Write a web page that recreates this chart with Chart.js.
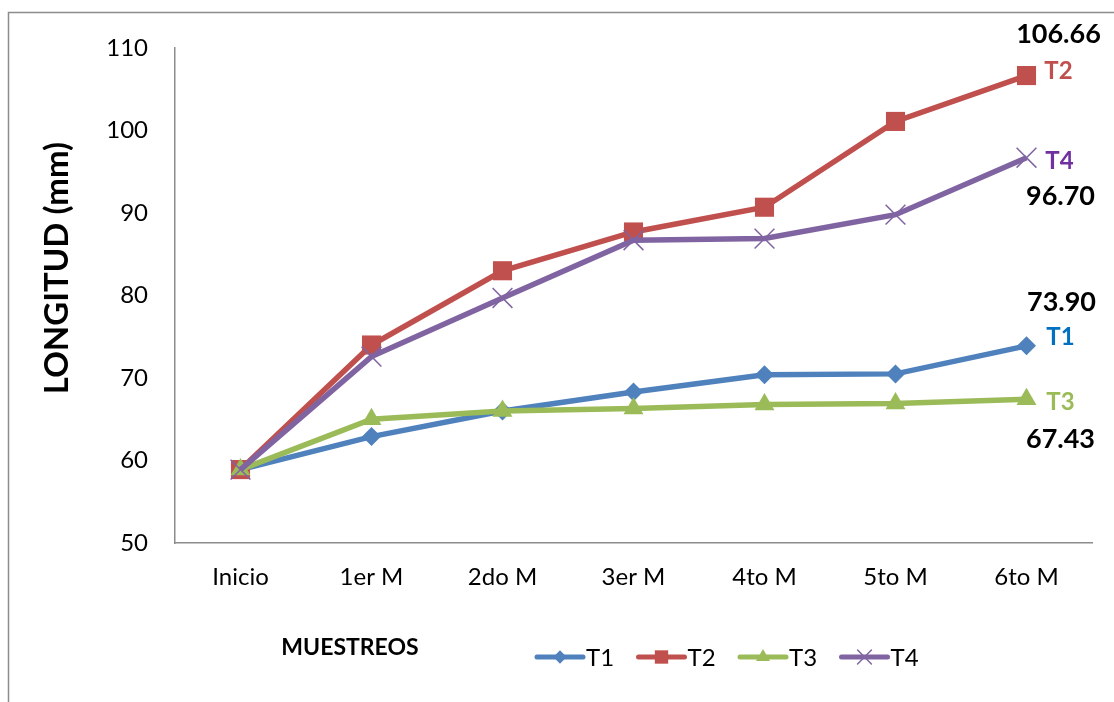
<!DOCTYPE html>
<html>
<head>
<meta charset="utf-8">
<script src="https://cdn.jsdelivr.net/npm/chart.js@4/dist/chart.umd.min.js"></script>
<style>
  html, body { margin: 0; padding: 0; background: #ffffff; }
  #wrap { width: 1114px; height: 702px; }
</style>
</head>
<body>
<div id="wrap"><canvas id="c" width="1114" height="702"></canvas></div>
<script>
// Sampling dates
const categories = ['Inicio', '1er M', '2do M', '3er M', '4to M', '5to M', '6to M'];

// Length (mm) per treatment
const t1 = [58.9, 62.9, 66.0, 68.3, 70.4, 70.5, 73.90];
const t2 = [58.9, 74.0, 83.0, 87.7, 90.7, 101.1, 106.66];
const t3 = [58.9, 65.0, 66.0, 66.3, 66.8, 66.9, 67.43];
const t4 = [58.9, 72.6, 79.7, 86.7, 86.9, 89.8, 96.70];

const seriesNames = ['T1', 'T2', 'T3', 'T4'];
const yTicks = [50, 60, 70, 80, 90, 100, 110];

const lineColors = ['#4F81BD', '#C0504D', '#9BBB59', '#8064A2'];
const tagColors = ['#0070C0', '#C0504D', '#9BBB59', '#7030A0'];
const markers = [
  { style: 'rectRot', radius: 9.5, border: 0 },
  { style: 'rect', radius: 13.5, border: 0 },
  { style: 'triangle', radius: 11.5, border: 0 },
  { style: 'crossRot', radius: 14, border: 1.5 }
];

const FONT = 'Lato, "Open Sans", "Liberation Sans", sans-serif';

function makeDataset(i, values) {
  const m = markers[i];
  return {
    label: seriesNames[i],
    data: values,
    borderColor: lineColors[i],
    backgroundColor: lineColors[i],
    borderWidth: 5.5,
    tension: 0,
    pointStyle: m.style,
    pointRadius: m.radius,
    pointHoverRadius: m.radius,
    pointBackgroundColor: lineColors[i],
    pointBorderColor: lineColors[i],
    pointBorderWidth: m.border,
    order: 4 - i,
    clip: false
  };
}

// Labels next to the final point of each series: value text and series tag
const endLabels = [
  { series: 0, value: { dx: 35, dy: -44 }, tag: { dx: 34, dy: -9 } },
  { series: 1, value: { dx: 32, dy: -41 }, tag: { dx: 32, dy: -4 } },
  { series: 2, value: { dx: 34, dy: 40 }, tag: { dx: 34, dy: 3 } },
  { series: 3, value: { dx: 34, dy: 39 }, tag: { dx: 33, dy: 4 } }
];

function drawMarker(ctx, i, x, y, scale) {
  const m = markers[i];
  const opts = {
    pointStyle: m.style,
    radius: m.radius * scale,
    rotation: 0,
    borderWidth: m.border || 0
  };
  ctx.save();
  ctx.fillStyle = lineColors[i];
  ctx.strokeStyle = lineColors[i];
  ctx.lineWidth = m.border || 0;
  Chart.helpers.drawPoint(ctx, opts, x, y);
  ctx.restore();
}

const decorations = {
  id: 'decorations',
  afterDraw(chart) {
    const ctx = chart.ctx;
    ctx.save();

    // outer frame
    ctx.strokeStyle = '#8c8c8c';
    ctx.lineWidth = 1.5;
    ctx.strokeRect(8.5, 12.5, 1300, 900);

    // y axis title
    ctx.save();
    ctx.translate(57, 268);
    ctx.rotate(-Math.PI / 2);
    ctx.fillStyle = '#000000';
    ctx.font = 'bold 33px ' + FONT;
    ctx.textAlign = 'center';
    ctx.textBaseline = 'middle';
    ctx.fillText('LONGITUD (mm)', 0, 0);
    ctx.restore();

    // x axis title
    ctx.fillStyle = '#000000';
    ctx.font = 'bold 23px ' + FONT;
    ctx.textAlign = 'center';
    ctx.textBaseline = 'middle';
    ctx.fillText('MUESTREOS', 350, 648);

    // end-of-line labels
    endLabels.forEach(lb => {
      const meta = chart.getDatasetMeta(lb.series);
      const pt = meta.data[meta.data.length - 1];
      const values = chart.data.datasets[lb.series].data;
      const v = values[values.length - 1];
      ctx.textAlign = 'center';
      ctx.textBaseline = 'middle';
      ctx.font = 'bold 27px ' + FONT;
      ctx.fillStyle = '#000000';
      ctx.fillText(v.toFixed(2), pt.x + lb.value.dx, pt.y + lb.value.dy);
      ctx.font = 'bold 24px ' + FONT;
      ctx.fillStyle = tagColors[lb.series];
      ctx.fillText(seriesNames[lb.series], pt.x + lb.tag.dx, pt.y + lb.tag.dy);
    });

    // legend
    const legendY = 657;
    const legendX0 = 537;
    const step = 101.5;
    seriesNames.forEach((name, i) => {
      const x = legendX0 + i * step;
      ctx.strokeStyle = lineColors[i];
      ctx.lineWidth = 5;
      ctx.lineCap = 'round';
      ctx.beginPath();
      ctx.moveTo(x, legendY);
      ctx.lineTo(x + 46, legendY);
      ctx.stroke();
      drawMarker(ctx, i, x + 23, legendY, 0.7);
      ctx.fillStyle = '#000000';
      ctx.font = '24px ' + FONT;
      ctx.textAlign = 'left';
      ctx.textBaseline = 'middle';
      ctx.fillText(name, x + 49, legendY + 1);
    });

    ctx.restore();
  }
};

new Chart(document.getElementById('c'), {
  type: 'line',
  data: {
    labels: categories,
    datasets: [makeDataset(0, t1), makeDataset(1, t2), makeDataset(2, t3), makeDataset(3, t4)]
  },
  options: {
    responsive: false,
    devicePixelRatio: 1,
    animation: false,
    events: [],
    layout: { padding: { top: 48, right: 22, left: 0, bottom: 0 } },
    plugins: {
      legend: { display: false },
      title: { display: false },
      tooltip: { enabled: false }
    },
    scales: {
      x: {
        type: 'category',
        offset: true,
        grid: { display: false, drawTicks: false },
        border: { display: true, color: '#8c8c8c', width: 1.5 },
        ticks: {
          color: '#000000',
          font: { family: FONT, size: 24 },
          padding: 20,
          maxRotation: 0,
          autoSkip: false
        },
        afterFit(scale) { scale.height = 702 - 543; }
      },
      y: {
        min: 50,
        max: 110,
        afterBuildTicks(scale) { scale.ticks = yTicks.map(v => ({ value: v })); },
        grid: { display: false, drawTicks: false },
        border: { display: true, color: '#8c8c8c', width: 1.5 },
        ticks: {
          color: '#000000',
          font: { family: FONT, size: 24 },
          padding: 27
        },
        afterFit(scale) { scale.width = 175; }
      }
    }
  },
  plugins: [decorations]
});
</script>
</body>
</html>
